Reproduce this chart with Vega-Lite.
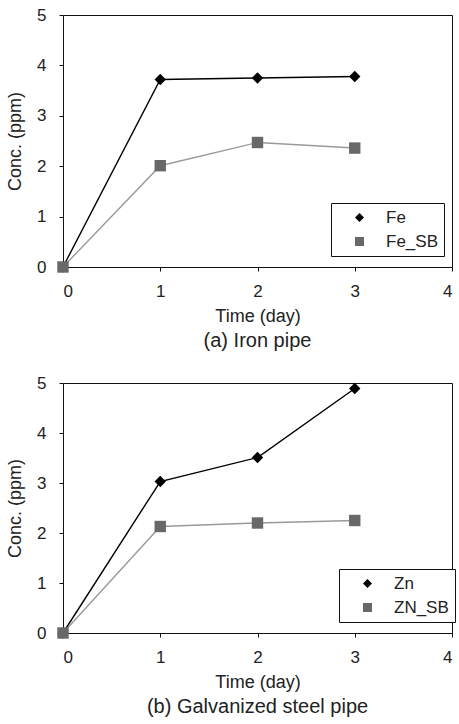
{
  "$schema": "https://vega.github.io/schema/vega-lite/v6.json",
  "padding": {"left": 6, "top": 5, "right": 0, "bottom": 0},
  "background": "white",
  "config": {
    "font": "Liberation Sans",
    "view": {"stroke": "#111", "strokeWidth": 1},
    "axis": {
      "grid": false,
      "domainColor": "#111",
      "tickColor": "#111",
      "labelColor": "#222",
      "titleColor": "#222",
      "labelFontSize": 17,
      "titleFontSize": 18,
      "titleFontWeight": "normal",
      "labelFont": "Liberation Sans",
      "titleFont": "Liberation Sans",
      "tickSize": 4
    },
    "legend": {
      "orient": "none", "strokeColor": "#111", "fillColor": "white",
      "padding": 6, "labelFontSize": 17, "labelColor": "#222", "labelFont": "Liberation Sans",
      "symbolSize": 81, "symbolOffset": 14, "labelOffset": 18, "rowPadding": 6
    },
    "title": {"fontSize": 20, "fontWeight": "normal", "color": "#222", "font": "Liberation Sans"},
    "concat": {"spacing": 21}
  },
  "resolve": {
    "scale": {"fill": "independent", "shape": "independent", "stroke": "independent"},
    "legend": {"fill": "independent", "shape": "independent", "stroke": "independent"}
  },
  "vconcat": [
    {
      "width": 389,
      "height": 252,
      "title": {"text": "(a) Iron pipe", "orient": "bottom", "offset": 6},
      "data": {"values": [
        {"series": "Fe", "day": 0, "conc": 0},
        {"series": "Fe", "day": 1, "conc": 3.72},
        {"series": "Fe", "day": 2, "conc": 3.75},
        {"series": "Fe", "day": 3, "conc": 3.78},
        {"series": "Fe_SB", "day": 0, "conc": 0},
        {"series": "Fe_SB", "day": 1, "conc": 2.01},
        {"series": "Fe_SB", "day": 2, "conc": 2.47},
        {"series": "Fe_SB", "day": 3, "conc": 2.36}
      ]},
      "encoding": {
        "x": {"field": "day", "type": "quantitative", "scale": {"domain": [0, 4], "nice": false},
              "axis": {"title": "Time (day)", "values": [0, 1, 2, 3, 4], "labelPadding": 12, "titlePadding": 8}},
        "y": {"field": "conc", "type": "quantitative", "scale": {"domain": [0, 5], "nice": false},
              "axis": {"title": "Conc. (ppm)", "values": [0, 1, 2, 3, 4, 5], "labelPadding": 13, "titlePadding": 12}}
      },
      "layer": [
        {
          "mark": {"type": "line", "strokeWidth": 1.4},
          "encoding": {
            "stroke": {"field": "series", "type": "nominal",
                       "scale": {"domain": ["Fe_SB", "Fe"], "range": ["#9a9a9a", "#000000"]}, "legend": null}
          }
        },
        {
          "mark": {"type": "point", "filled": true, "opacity": 1, "size": 130},
          "encoding": {
            "shape": {"field": "series", "type": "nominal",
                      "scale": {"domain": ["Fe", "Fe_SB"], "range": ["diamond", "square"]},
                      "legend": {
                        "legendX": 268, "legendY": 188, "title": null,
                        "encode": {"symbols": {
                          "shape": {"value": {"expr": "datum.value === 'Fe' ? 'M-3.6,0H-1M1,0H3.6M0,-1L1,0L0,1L-1,0Z' : 'M-3.6,0H-0.9M0.9,0H3.6M-0.9,-0.9H0.9V0.9H-0.9Z'"}},
                          "stroke": {"value": {"expr": "datum.value === 'Fe' ? '#000000' : '#9a9a9a'"}},
                          "strokeWidth": {"value": 1},
                          "opacity": {"value": 1}
                        }}
                      }},
            "fill": {"field": "series", "type": "nominal",
                     "scale": {"domain": ["Fe", "Fe_SB"], "range": ["#000000", "#686868"]},
                      "legend": {
                        "legendX": 268, "legendY": 188, "title": null,
                        "encode": {"symbols": {
                          "shape": {"value": {"expr": "datum.value === 'Fe' ? 'M-3.6,0H-1M1,0H3.6M0,-1L1,0L0,1L-1,0Z' : 'M-3.6,0H-0.9M0.9,0H3.6M-0.9,-0.9H0.9V0.9H-0.9Z'"}},
                          "stroke": {"value": {"expr": "datum.value === 'Fe' ? '#000000' : '#9a9a9a'"}},
                          "strokeWidth": {"value": 1},
                          "opacity": {"value": 1}
                        }}
                      }}
          }
        }
      ]
    },
    {
      "width": 389,
      "height": 250,
      "title": {"text": "(b) Galvanized steel pipe", "orient": "bottom", "offset": 6},
      "data": {"values": [
        {"series": "Zn", "day": 0, "conc": 0},
        {"series": "Zn", "day": 1, "conc": 3.03},
        {"series": "Zn", "day": 2, "conc": 3.51},
        {"series": "Zn", "day": 3, "conc": 4.89},
        {"series": "ZN_SB", "day": 0, "conc": 0},
        {"series": "ZN_SB", "day": 1, "conc": 2.13},
        {"series": "ZN_SB", "day": 2, "conc": 2.2},
        {"series": "ZN_SB", "day": 3, "conc": 2.25}
      ]},
      "encoding": {
        "x": {"field": "day", "type": "quantitative", "scale": {"domain": [0, 4], "nice": false},
              "axis": {"title": "Time (day)", "values": [0, 1, 2, 3, 4], "labelPadding": 12, "titlePadding": 8}},
        "y": {"field": "conc", "type": "quantitative", "scale": {"domain": [0, 5], "nice": false},
              "axis": {"title": "Conc. (ppm)", "values": [0, 1, 2, 3, 4, 5], "labelPadding": 13, "titlePadding": 12}}
      },
      "layer": [
        {
          "mark": {"type": "line", "strokeWidth": 1.4},
          "encoding": {
            "stroke": {"field": "series", "type": "nominal",
                       "scale": {"domain": ["ZN_SB", "Zn"], "range": ["#9a9a9a", "#000000"]}, "legend": null}
          }
        },
        {
          "mark": {"type": "point", "filled": true, "opacity": 1, "size": 130},
          "encoding": {
            "shape": {"field": "series", "type": "nominal",
                      "scale": {"domain": ["Zn", "ZN_SB"], "range": ["diamond", "square"]},
                      "legend": {
                        "legendX": 276, "legendY": 186, "title": null,
                        "encode": {"symbols": {
                          "shape": {"value": {"expr": "datum.value === 'Zn' ? 'M-3.6,0H-1M1,0H3.6M0,-1L1,0L0,1L-1,0Z' : 'M-3.6,0H-0.9M0.9,0H3.6M-0.9,-0.9H0.9V0.9H-0.9Z'"}},
                          "stroke": {"value": {"expr": "datum.value === 'Zn' ? '#000000' : '#9a9a9a'"}},
                          "strokeWidth": {"value": 1},
                          "opacity": {"value": 1}
                        }}
                      }},
            "fill": {"field": "series", "type": "nominal",
                     "scale": {"domain": ["Zn", "ZN_SB"], "range": ["#000000", "#686868"]},
                      "legend": {
                        "legendX": 276, "legendY": 186, "title": null,
                        "encode": {"symbols": {
                          "shape": {"value": {"expr": "datum.value === 'Zn' ? 'M-3.6,0H-1M1,0H3.6M0,-1L1,0L0,1L-1,0Z' : 'M-3.6,0H-0.9M0.9,0H3.6M-0.9,-0.9H0.9V0.9H-0.9Z'"}},
                          "stroke": {"value": {"expr": "datum.value === 'Zn' ? '#000000' : '#9a9a9a'"}},
                          "strokeWidth": {"value": 1},
                          "opacity": {"value": 1}
                        }}
                      }}
          }
        }
      ]
    }
  ]
}
